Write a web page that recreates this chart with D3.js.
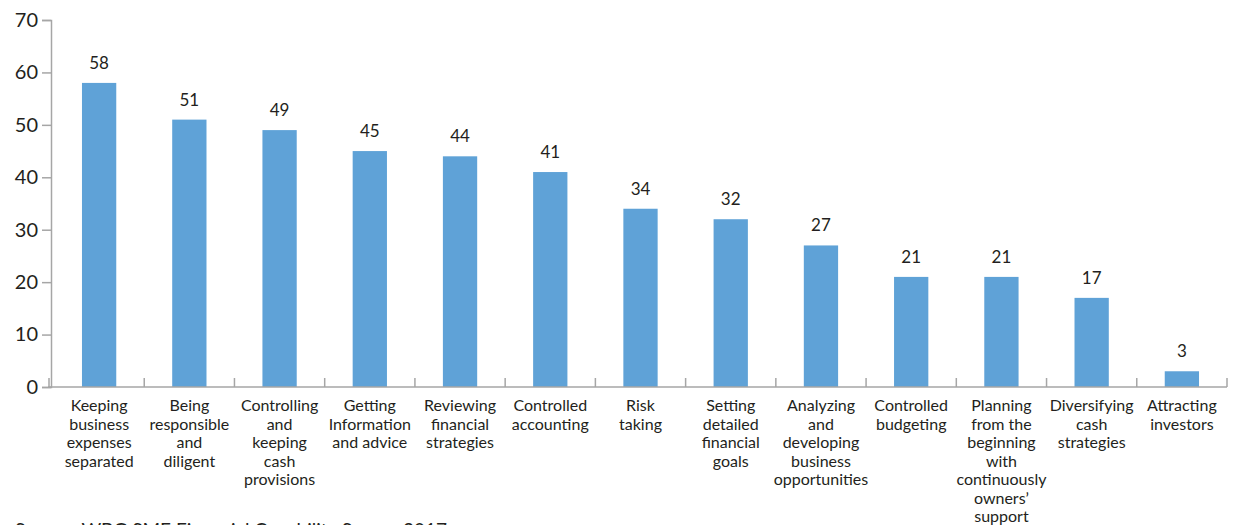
<!DOCTYPE html>
<html>
<head>
<meta charset="utf-8">
<script src="https://cdn.jsdelivr.net/npm/d3@7"></script>
<style>
  html, body { margin: 0; padding: 0; background: #fff; }
  svg { display: block; font-family: Lato, "Open Sans", sans-serif; }
</style>
</head>
<body>
<svg id="chart" width="1235" height="525"></svg>
<script>
// Practices reported by SMEs (percent)
const categories = [
  "Keeping business expenses separated",
  "Being responsible and diligent",
  "Controlling and keeping cash provisions",
  "Getting Information and advice",
  "Reviewing financial strategies",
  "Controlled accounting",
  "Risk taking",
  "Setting detailed financial goals",
  "Analyzing and developing business opportunities",
  "Controlled budgeting",
  "Planning from the beginning with continuously owners’ support",
  "Diversifying cash strategies",
  "Attracting investors"
];
const values = [58, 51, 49, 45, 44, 41, 34, 32, 27, 21, 21, 17, 3];

// Line breaks used for the category labels
const labelLines = [
  ["Keeping", "business", "expenses", "separated"],
  ["Being", "responsible", "and", "diligent"],
  ["Controlling", "and", "keeping", "cash", "provisions"],
  ["Getting", "Information", "and advice"],
  ["Reviewing", "financial", "strategies"],
  ["Controlled", "accounting"],
  ["Risk", "taking"],
  ["Setting", "detailed", "financial", "goals"],
  ["Analyzing", "and", "developing", "business", "opportunities"],
  ["Controlled", "budgeting"],
  ["Planning", "from the", "beginning", "with", "continuously", "owners’", "support"],
  ["Diversifying", "cash", "strategies"],
  ["Attracting", "investors"]
];
const yTicks = [0, 10, 20, 30, 40, 50, 60, 70];
const sourceNote = "Source: WBG SME Financial Capability Survey 2017";

const svg = d3.select("#chart");
const axisColor = "#a6a6a6";
const barColor = "#5fa2d7";
const textColor = "#231f20";

const x = d3.scaleBand().domain(categories).range([54, 1227]).paddingInner(0.62).paddingOuter(0.31);
const y = d3.scaleLinear().domain([0, 70]).range([387, 20]);

// Y axis
const yAxis = svg.append("g").attr("transform", "translate(51,0)")
  .call(d3.axisLeft(y).tickValues(yTicks).tickSize(9).tickPadding(4));
yAxis.select(".domain").attr("stroke", axisColor).attr("stroke-width", 1.5);
yAxis.selectAll(".tick line").attr("stroke", axisColor).attr("stroke-width", 1.5);
yAxis.selectAll(".tick text").attr("fill", textColor).style("font-size", "20px")
  .style("font-family", "Lato, sans-serif");

// Bars
svg.append("g").selectAll("rect").data(values).join("rect")
  .attr("x", (d, i) => x(categories[i]))
  .attr("y", d => y(d))
  .attr("width", x.bandwidth())
  .attr("height", d => y(0) - y(d))
  .attr("fill", barColor);

// Value labels
svg.append("g").selectAll("text").data(values).join("text")
  .attr("x", (d, i) => x(categories[i]) + x.bandwidth() / 2)
  .attr("y", d => y(d) - 14)
  .attr("text-anchor", "middle")
  .attr("fill", textColor)
  .style("font-size", "17px")
  .text(d => d);

// X axis baseline with boundary ticks between categories
const step = x.step();
const start = x.range()[0];
const xg = svg.append("g");
xg.append("line")
  .attr("x1", 48).attr("x2", x.range()[1])
  .attr("y1", y(0)).attr("y2", y(0))
  .attr("stroke", axisColor).attr("stroke-width", 1.5);
const bounds = [49].concat(d3.range(1, categories.length + 1).map(i => start + i * step));
xg.selectAll("line.b").data(bounds).join("line")
  .attr("class", "b")
  .attr("x1", d => d).attr("x2", d => d)
  .attr("y1", y(0) - 9).attr("y2", y(0))
  .attr("stroke", axisColor).attr("stroke-width", 1.5);

// Category labels
const lab = svg.append("g").selectAll("text").data(labelLines).join("text")
  .attr("text-anchor", "middle")
  .attr("fill", textColor)
  .style("font-size", "16px")
  .attr("transform", (d, i) => `translate(${x(categories[i]) + x.bandwidth() / 2},411)`);
lab.selectAll("tspan").data(d => d).join("tspan")
  .attr("x", 0)
  .attr("y", (d, j) => j * 18.5)
  .text(d => d);

// Source note
svg.append("text")
  .attr("x", 15).attr("y", 537)
  .attr("fill", textColor)
  .style("font-size", "19px")
  .text(sourceNote);
</script>
</body>
</html>
